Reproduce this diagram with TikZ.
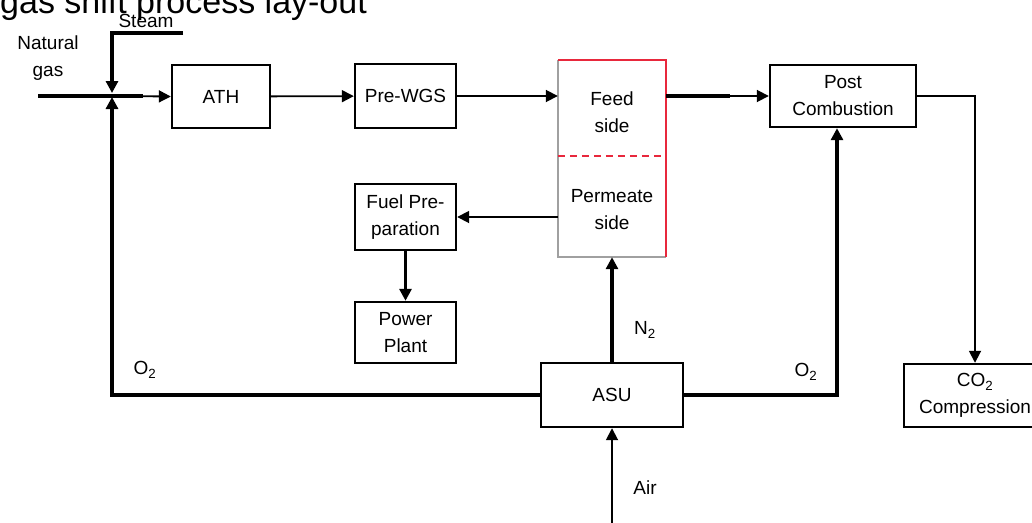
\documentclass[tikz,border=0pt]{standalone}
\usepackage{fontspec}
\setmainfont{Liberation Sans}
\usetikzlibrary{arrows.meta}
\definecolor{memred}{HTML}{E8283C}
\definecolor{memgray}{HTML}{A0A0A0}
\newcommand\diagfont{\fontsize{19}{27}\selectfont}
\begin{document}
\begin{tikzpicture}[x=1pt,y=-1pt,
  box/.style={draw, line width=2.4pt, rectangle, inner sep=0pt, align=center, font=\diagfont},
  lbl/.style={inner sep=0pt, align=center, font=\diagfont},
  thk/.style={line width=3.5pt},
  thn/.style={line width=1.8pt},
  tip/.style={-{Triangle[length=12pt,width=12pt]}}]
\clip (0,0) rectangle (1032,522);
% title (cut at the top)
\node[anchor=base west, inner sep=0pt, font=\fontsize{34}{40}\selectfont] (title) at (0,13) {gas shift process lay-out};
% boxes
\node[box, minimum width=98, minimum height=63] (ath) at (221,96.5) {ATH};
\node[box, minimum width=101, minimum height=64] (pre) at (405.5,96) {Pre-WGS};
\node[inner sep=0pt, minimum width=108, minimum height=197] (mem) at (612,158.5) {};
\node[box, minimum width=146, minimum height=62] (post) at (843,96) {Post\\Combustion};
\node[box, minimum width=101, minimum height=66] (fuel) at (405.5,217) {Fuel Pre-\\paration};
\node[box, minimum width=101, minimum height=61] (power) at (405.5,332.5) {Power\\Plant};
\node[box, minimum width=142, minimum height=64] (asu) at (612,395) {ASU};
\node[box, minimum width=142, minimum height=63] (co2) at (975,395.5) {CO\textsubscript{2}\\Compression};
% membrane sides
\draw[memgray, line width=2pt] (mem.north west) -- (mem.south west) -- (mem.south east);
\draw[memred, line width=2pt] (mem.north west) -- (mem.north east) -- (mem.south east);
\draw[memred, line width=1.6pt, dash pattern=on 7pt off 5pt] ([yshift=2.5pt]mem.west) -- ([yshift=2.5pt]mem.east);
\node[lbl] (feed) at (612,112) {Feed\\side};
\node[lbl] (perm) at (612,210) {Permeate\\side};
% labels
\node[lbl] (steamlbl) at (146,21) {Steam};
\node[lbl] (nglbl) at (48,58) {Natural\\gas};
\node[lbl] (o2l) at (145,370) {O\textsubscript{2}};
\node[lbl] (o2r) at (806,372) {O\textsubscript{2}};
\node[lbl] (n2) at (645,330) {N\textsubscript{2}};
\node[lbl] (airlbl) at (645,488) {Air};
% free ends
\coordinate (j) at (112,96);
\coordinate (ng) at (38,96);
\coordinate (st) at (183,33);
\coordinate (air) at (612,530);
% connectors
\draw[thk] (ng) -- (j);
\draw[thk] (j) -- (143,96);
\draw[thn, tip] (j) -- (ath.west);
\draw[thk, tip, shorten >=3pt] (st) -| (j);
\draw[thn, tip] (ath) -- (pre);
\draw[thn, tip] (pre.east) -- (pre.east -| mem.west);
\draw[thk] (post.west -| mem.east) -- ++(64,0);
\draw[thn, tip] (post.west -| mem.east) -- (post.west);
\draw[thn, tip] (post.east) -| (co2.north);
\draw[thn, tip] (fuel.east -| mem.west) -- (fuel.east);
\draw[thk, tip] (fuel) -- (power);
\draw[thk, tip] (asu) -- (mem);
\draw[thk, tip, shorten >=1pt] (asu.west) -| (j);
\draw[thk, tip] (asu.east) -| ([xshift=-6pt]post.south);
\draw[thn, tip] (air) -- (asu);
\end{tikzpicture}
\end{document}
